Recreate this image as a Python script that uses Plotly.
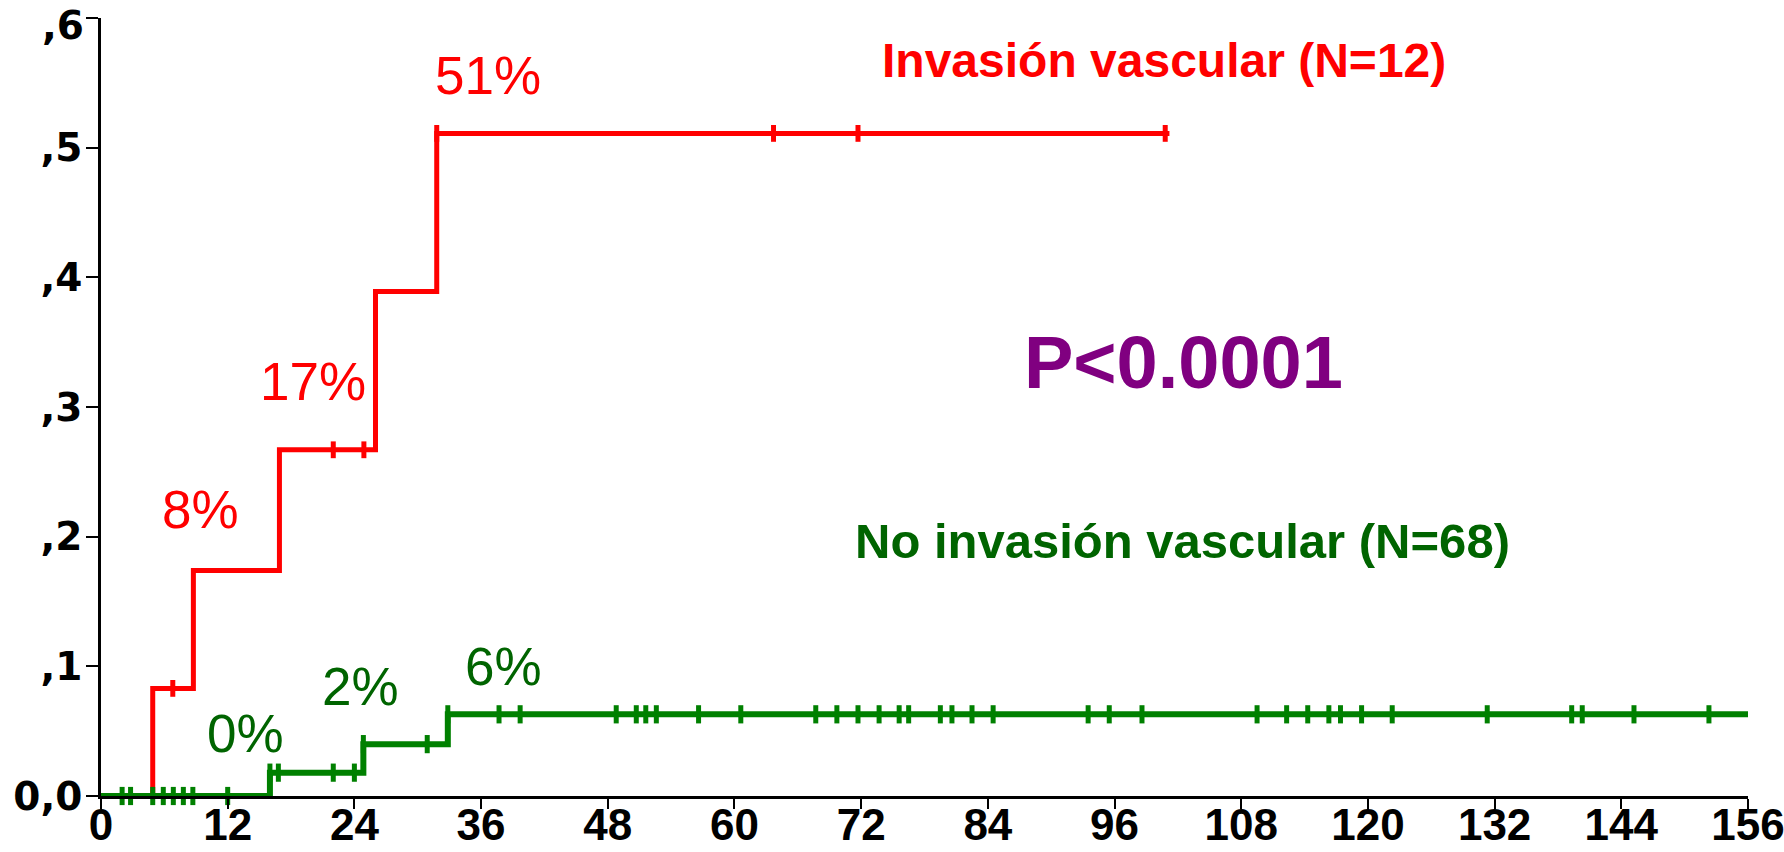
import plotly.graph_objects as go

# ---------------- data ----------------
x_tick_vals = [0, 12, 24, 36, 48, 60, 72, 84, 96, 108, 120, 132, 144, 156]
y_tick_vals = [0.0, 0.1, 0.2, 0.3, 0.4, 0.5, 0.6]
y_tick_text = ["0,0", ",1", ",2", ",3", ",4", ",5", ",6"]

# Invasión vascular (N=12): step times / cumulative incidence
red_times = [0, 4.9, 8.75, 16.9, 26.0, 31.8]
red_values = [0.0, 0.083, 0.174, 0.267, 0.389, 0.511]
red_end = 101.2
red_censor = [6.8, 22.0, 24.9, 31.8, 63.7, 71.7, 100.8]

# No invasión vascular (N=68)
green_times = [0, 16.0, 24.85, 32.85]
green_values = [0.0, 0.018, 0.040, 0.063]
green_end = 156
green_censor = [2.0, 2.8, 4.9, 5.9, 6.85, 7.8, 8.7, 12.0,
                16.0, 16.8, 22.0, 24.0,
                24.85, 30.9,
                32.85, 37.7, 39.7, 48.8, 50.7, 51.6, 52.6, 56.6, 60.6,
                67.7, 69.7, 71.7, 73.7, 75.6, 76.5, 79.5, 80.6, 82.5, 84.5,
                93.5, 95.5, 98.6, 109.5, 112.3, 114.3, 116.3, 117.4, 119.4,
                122.3, 131.3, 139.3, 140.3, 145.2, 152.3]

red_labels = ["8%", "17%", "51%"]
green_labels = ["0%", "2%", "6%"]

RED = "#FF0000"
GREEN_LINE = "#008000"
GREEN_TEXT = "#006400"
PURPLE = "#800080"


def level_at(t, times, values):
    v = values[0]
    for ti, vi in zip(times, values):
        if ti <= t + 1e-9:
            v = vi
    return v


fig = go.Figure()

# red curve
fig.add_trace(go.Scatter(
    x=red_times + [red_end], y=red_values + [red_values[-1]],
    mode="lines", line=dict(color=RED, width=5, shape="hv"),
    cliponaxis=False, hoverinfo="skip", showlegend=False))
fig.add_trace(go.Scatter(
    x=red_censor, y=[level_at(t, red_times, red_values) for t in red_censor],
    mode="markers", marker=dict(symbol="line-ns", size=12,
                                line=dict(color=RED, width=5)),
    cliponaxis=False, hoverinfo="skip", showlegend=False))

# green curve
fig.add_trace(go.Scatter(
    x=green_times + [green_end], y=green_values + [green_values[-1]],
    mode="lines", line=dict(color=GREEN_LINE, width=6, shape="hv"),
    cliponaxis=False, hoverinfo="skip", showlegend=False))
fig.add_trace(go.Scatter(
    x=green_censor, y=[level_at(t, green_times, green_values) for t in green_censor],
    mode="markers", marker=dict(symbol="line-ns", size=13,
                                line=dict(color=GREEN_LINE, width=5)),
    cliponaxis=False, hoverinfo="skip", showlegend=False))

pct_font = "Liberation Sans, Arial, sans-serif"
ytick_font = dict(family="DejaVu Sans, sans-serif", size=39, color="black", weight="bold")

annotations = []
for txt, (ax, ay) in zip(red_labels, [(9.46, 0.2207), (20.1, 0.320), (36.7, 0.556)]):
    annotations.append(dict(x=ax, y=ay, text=txt, showarrow=False,
                            font=dict(family=pct_font, size=53, color=RED)))
for txt, (ax, ay) in zip(green_labels, [(13.7, 0.0483), (24.6, 0.0847), (38.1, 0.0995)]):
    annotations.append(dict(x=ax, y=ay, text=txt, showarrow=False,
                            font=dict(family=pct_font, size=53, color=GREEN_TEXT)))
annotations.append(dict(x=100.7, y=0.567, text="Invasión vascular (N=12)", showarrow=False,
                        font=dict(family=pct_font, size=48, color=RED, weight="bold")))
annotations.append(dict(x=102.4, y=0.1965, text="No invasión vascular (N=68)", showarrow=False,
                        font=dict(family=pct_font, size=49, color=GREEN_TEXT, weight="bold")))
annotations.append(dict(x=102.5, y=0.334, text="P<0.0001", showarrow=False,
                        font=dict(family=pct_font, size=74, color=PURPLE, weight="bold")))

# the top y tick label is drawn as an annotation anchored at its top so it stays inside the page
axis_tick_text = y_tick_text[:-1] + [""]
annotations.append(dict(xref="paper", x=0, xanchor="right", xshift=-15,
                        yref="y", y=y_tick_vals[-1], yanchor="top", yshift=17,
                        text=y_tick_text[-1], showarrow=False, font=ytick_font))

fig.update_layout(
    template="none",
    width=1784, height=852,
    margin=dict(l=101, r=36, t=18, b=56, autoexpand=False),
    paper_bgcolor="white", plot_bgcolor="white",
    annotations=annotations,
    xaxis=dict(range=[0, 156], tickvals=x_tick_vals, showgrid=False, zeroline=False,
               automargin=False, ticklabeloverflow="allow", ticklabelstandoff=-22,
               showline=True, linecolor="black", linewidth=2.5,
               ticks="outside", ticklen=10, tickwidth=2, tickcolor="black",
               tickfont=dict(family="Liberation Sans Narrow, Arial Narrow, Liberation Sans, Arial",
                             size=44, color="black", weight="bold")),
    yaxis=dict(range=[0, 0.6], tickvals=y_tick_vals, ticktext=axis_tick_text,
               showgrid=False, zeroline=False,
               automargin=False, ticklabeloverflow="allow", ticklabelstandoff=-4,
               showline=True, linecolor="black", linewidth=2.5,
               ticks="outside", ticklen=12, tickwidth=2, tickcolor="black",
               tickfont=ytick_font),
)

# remove the default 8px page margin so the figure fills the window exactly
fig.write_html("out.html", config={"displayModeBar": False},
               post_script="document.body.style.margin='0px';")
